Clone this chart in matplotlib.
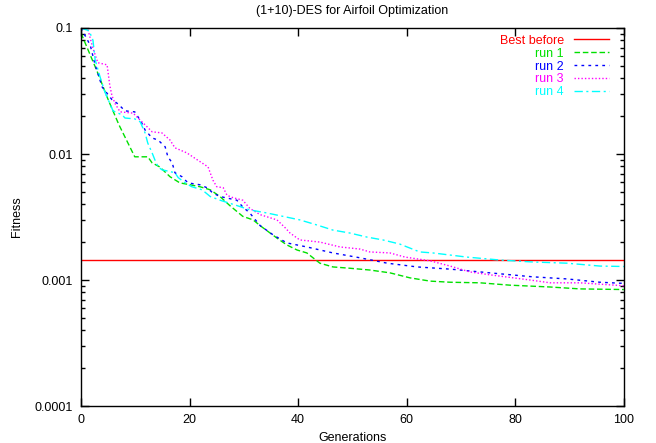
"""(1+10)-DES: curvas de fitness por generación en estilo gnuplot."""

import matplotlib
matplotlib.use("Agg")
import matplotlib.pyplot as plt
from matplotlib.ticker import FixedLocator, LogLocator, NullFormatter

plt.rcParams["font.family"] = ["Liberation Sans", "DejaVu Sans"]
plt.rcParams["font.size"] = 9

# DATOS

best_before = 0.00144

gen_run1 = [0, 2.9, 5.0, 7.0, 9.9, 12.3, 13.1, 14.5, 16.4, 18.2, 20.1, 21.9, 23.8, 25.6, 27.4, 29.8,
            31.7, 33.0, 36.1, 37.9, 39.8, 41.6, 44.0, 46.4, 49.5, 53.2, 56.9, 60.6, 64.3, 68.0, 73.5,
            79.0, 86.4, 91.9, 100]
fit_run1 = [0.091, 0.046, 0.027, 0.017, 0.0095, 0.0095, 0.0085, 0.0079, 0.0066, 0.0059, 0.0057, 0.0055,
            0.0052, 0.0046, 0.0039, 0.0032, 0.0030, 0.0027, 0.00215, 0.0019, 0.00173, 0.00164, 0.00136,
            0.00127, 0.00124, 0.0012, 0.00114, 0.00104, 0.00098, 0.00096, 0.00095, 0.00091, 0.00088,
            0.00085, 0.00084]

gen_run2 = [0, 1.7, 2.6, 3.9, 5.7, 6.8, 8.1, 9.9, 10.5, 11.2, 11.8, 13.1, 14.2, 15.5, 16.0, 16.8, 17.3,
            18.6, 19.7, 21.9, 23.2, 24.3, 25.6, 28.7, 29.8, 31.1, 33.0, 35.4, 37.9, 41.6, 46.4, 51.4,
            56.4, 61.9, 68.0, 77.2, 83.2, 89.5, 95.6, 100]
fit_run2 = [0.1, 0.073, 0.051, 0.034, 0.027, 0.025, 0.022, 0.0216, 0.0197, 0.0176, 0.0155, 0.0134,
            0.0129, 0.0114, 0.0095, 0.0085, 0.0071, 0.0066, 0.0059, 0.0057, 0.0054, 0.0049, 0.0046,
            0.0043, 0.0038, 0.0034, 0.0027, 0.00228, 0.00197, 0.00183, 0.00164, 0.0015, 0.00136,
            0.00127, 0.00122, 0.00112, 0.00106, 0.00102, 0.00096, 0.00094]

gen_run3 = [0, 1.3, 2.2, 3.1, 4.8, 5.0, 5.3, 5.7, 6.3, 7.2, 9.6, 10.5, 12.2, 13.1, 14.9, 16.4, 17.3,
            19.5, 21.4, 23.4, 24.3, 25.0, 26.2, 26.9, 28.0, 29.8, 31.1, 33.0, 36.1, 37.6, 38.5, 40.3,
            44.0, 47.7, 51.4, 53.2, 56.9, 59.7, 64.3, 68.0, 71.6, 75.3, 82.7, 86.4, 91.9, 100]
fit_run3 = [0.1, 0.096, 0.069, 0.053, 0.051, 0.044, 0.035, 0.029, 0.025, 0.0216, 0.0211, 0.0193,
            0.0164, 0.015, 0.0147, 0.0129, 0.0112, 0.0102, 0.009, 0.0079, 0.0062, 0.0055, 0.0054,
            0.0047, 0.0045, 0.0043, 0.0037, 0.0033, 0.0030, 0.0026, 0.00236, 0.00208, 0.0020, 0.00183,
            0.00176, 0.00167, 0.00164, 0.00152, 0.00142, 0.00129, 0.00116, 0.0011, 0.0010, 0.00095,
            0.00095, 0.0009]

gen_run4 = [0, 1.5, 2.2, 2.6, 3.5, 4.4, 5.0, 5.9, 7.6, 8.1, 9.9, 10.9, 11.8, 12.3, 13.1, 13.6, 14.2,
            14.9, 17.3, 17.9, 19.2, 20.4, 22.3, 23.8, 25.6, 28.7, 31.1, 34.3, 37.2, 40.3, 43.5, 46.4,
            49.5, 52.7, 55.6, 58.7, 62.4, 64.8, 71.1, 77.2, 83.2, 89.5, 95.6, 100]
fit_run4 = [0.1, 0.095, 0.080, 0.056, 0.041, 0.031, 0.027, 0.022, 0.0204, 0.0193, 0.019, 0.018,
            0.0147, 0.0122, 0.0102, 0.009, 0.0079, 0.0075, 0.0071, 0.0065, 0.0059, 0.0055, 0.0052,
            0.0046, 0.0043, 0.0039, 0.0036, 0.0034, 0.0032, 0.0030, 0.00273, 0.00249, 0.00236,
            0.00219, 0.00208, 0.00193, 0.00167, 0.00164, 0.00152, 0.00144, 0.00139, 0.00136,
            0.00129, 0.00128]

x_ticks = [0, 20, 40, 60, 80, 100]
y_ticks = [0.0001, 0.001, 0.01, 0.1]
y_tick_labels = ["0.0001", "0.001", "0.01", "0.1"]

# FIGURA

fig = plt.figure(figsize=(6.56, 4.43), dpi=100)
ax = fig.add_axes([0.1235, 0.0835, 0.8275, 0.8533])

ax.axhline(best_before, color="#ff0000", lw=1.0, label="Best before")
ax.plot(gen_run1, fit_run1, color="#00e000", lw=1.0, dashes=(4, 2), label="run 1")
ax.plot(gen_run2, fit_run2, color="#0000ff", lw=1.0, dashes=(2, 3), label="run 2")
ax.plot(gen_run3, fit_run3, color="#ff00ff", lw=1.0, dashes=(1, 1.5), label="run 3")
ax.plot(gen_run4, fit_run4, color="#00ffff", lw=1.0, dashes=(6, 2.5, 1.5, 2.5), label="run 4")

ax.set_yscale("log")
ax.set_xlim(0, 100)
ax.set_ylim(0.0001, 0.1)
ax.xaxis.set_major_locator(FixedLocator(x_ticks))
ax.yaxis.set_major_locator(FixedLocator(y_ticks))
ax.set_yticklabels(y_tick_labels)
ax.yaxis.set_minor_locator(LogLocator(base=10, subs=range(2, 10)))
ax.yaxis.set_minor_formatter(NullFormatter())

ax.tick_params(which="both", direction="in", top=True, right=True, width=1.0, pad=6)
ax.tick_params(which="major", length=6)
ax.tick_params(which="minor", length=3)
for side in ax.spines.values():
    side.set_linewidth(1.0)

ax.set_title("(1+10)-DES for Airfoil Optimization", fontsize=9, pad=10)
ax.set_xlabel("Generations", labelpad=4)
ax.set_ylabel("Fitness", labelpad=8)

ax.legend(loc="upper right", bbox_to_anchor=(0.9725, 0.982), frameon=False, markerfirst=False,
          labelcolor="linecolor", handlelength=2.8, handletextpad=0.8, labelspacing=0.07,
          borderaxespad=0.0, borderpad=0.0, fontsize=9)

fig.savefig("out.png", dpi=100)
